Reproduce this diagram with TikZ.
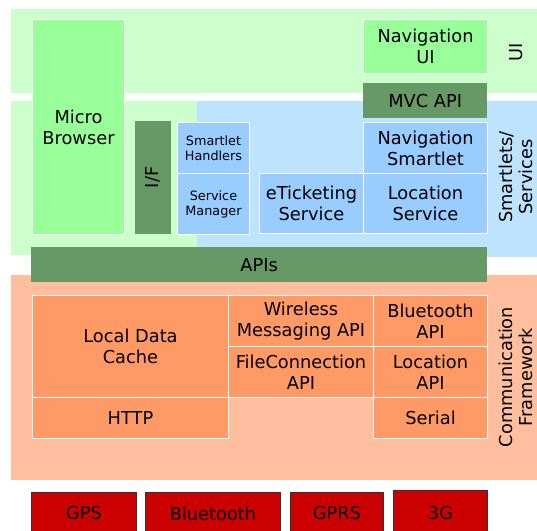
\documentclass[tikz,border=0pt]{standalone}
\usepackage{fontspec}
\setmainfont{DejaVu Sans}
\definecolor{uiband}{HTML}{CCFFCC}
\definecolor{brgreen}{HTML}{99FF99}
\definecolor{lblue}{HTML}{BDE3FF}
\definecolor{mblue}{HTML}{99CCFF}
\definecolor{dkgreen}{HTML}{669966}
\definecolor{commband}{HTML}{FFBF9F}
\definecolor{orng}{HTML}{FF9966}
\definecolor{hwred}{HTML}{CC0000}
\definecolor{hwedge}{HTML}{333333}
\begin{document}
\begin{tikzpicture}[x=1pt,y=-1pt,
  txt/.style={font=\fontsize{17.8}{21}\selectfont, align=center, inner sep=0pt, text=black},
  smalltxt/.style={font=\fontsize{12.8}{15}\selectfont},
  blk/.style={txt, anchor=north west, draw=white, line width=1pt},
  dark/.style={txt, anchor=north west, draw=none, fill=dkgreen},
  hw/.style={txt, anchor=north west, draw=hwedge, line width=1pt, fill=hwred},
  side/.style={txt, rotate=90, font=\fontsize{17.8}{20}\selectfont},
]
\useasboundingbox (0,0) rectangle (537,530);
\clip (0,0) rectangle (537,530);
% bands
\fill[uiband] (11,9) rectangle (537,93);
\fill[uiband] (11,101) rectangle (197,255);
\fill[lblue] (197,101) rectangle (537,257);
\fill[commband] (11,275) rectangle (537,480);
% UI / smartlets layer
\node[blk, fill=brgreen, minimum width=92pt, minimum height=215pt] (mb) at (32,19) {Micro\\Browser};
\node[txt, fill=dkgreen, rotate=90, minimum width=113pt, minimum height=36pt] (if) at (153,177.5) {I/F};
\node[blk, smalltxt, fill=mblue, minimum width=72pt, minimum height=51pt] (sh) at (177,122) {Smartlet\\Handlers};
\node[blk, smalltxt, fill=mblue, minimum width=72pt, minimum height=61pt] (sm) at (177,173) {Service\\Manager};
\node[blk, fill=mblue, minimum width=104pt, minimum height=60pt] (et) at (259,173) {eTicketing\\Service};
\node[blk, fill=mblue, minimum width=124pt, minimum height=60pt] (ls) at (363,173) {Location\\Service};
\node[blk, fill=mblue, minimum width=124pt, minimum height=51pt] (ns) at (363,122) {Navigation\\Smartlet};
\node[dark, minimum width=124pt, minimum height=35pt] (mvc) at (363,83) {MVC API};
\node[blk, fill=brgreen, minimum width=124pt, minimum height=54pt] (nui) at (363,19) {Navigation\\UI};
\node[dark, minimum width=456pt, minimum height=35pt] (apis) at (31,247) {APIs};
% communication framework
\node[blk, fill=orng, minimum width=196pt, minimum height=102pt] (ldc) at (32,295) {Local Data\\Cache};
\node[blk, fill=orng, minimum width=196pt, minimum height=41pt] (http) at (32,397) {HTTP};
\node[blk, fill=orng, minimum width=145pt, minimum height=51pt] (wma) at (228,295) {Wireless\\Messaging API};
\node[blk, fill=orng, minimum width=145pt, minimum height=51pt] (fc) at (228,346) {FileConnection\\API};
\node[blk, fill=orng, minimum width=114pt, minimum height=51pt] (bta) at (373,295) {Bluetooth\\API};
\node[blk, fill=orng, minimum width=114pt, minimum height=51pt] (loca) at (373,346) {Location\\API};
\node[blk, fill=orng, minimum width=114pt, minimum height=41pt] (ser) at (373,397) {Serial};
% hardware
\node[hw, minimum width=105pt, minimum height=42pt] (gps) at (31,492) {GPS};
\node[hw, minimum width=135pt, minimum height=42pt] (bt) at (145,492) {Bluetooth};
\node[hw, minimum width=93pt, minimum height=42pt] (gprs) at (290,492) {GPRS};
\node[hw, minimum width=94pt, minimum height=46pt] (g3) at (393,490) {3G};
% side labels
\node[side] (lui) at (516,52) {UI};
\node[side] (lsm) at (516,177) {Smartlets/\\Services};
\node[side] (lcf) at (516,377) {Communication\\Framework};
\end{tikzpicture}
\end{document}
